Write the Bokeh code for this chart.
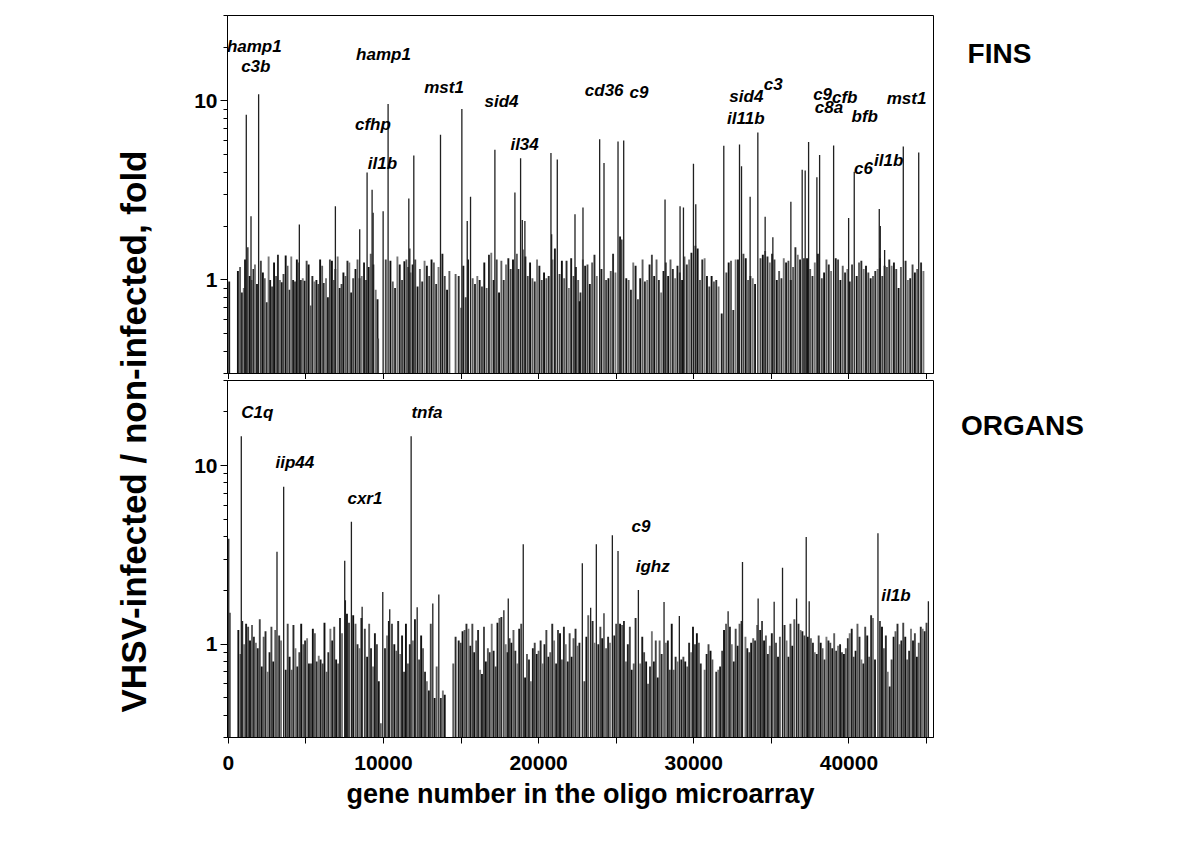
import math
from bokeh.plotting import figure
from bokeh.models import Range1d, FixedTicker, PrintfTickFormatter, Label, ColumnDataSource
from bokeh.layouts import row, column
from bokeh.embed import file_html
from bokeh.resources import INLINE
from bokeh.core.properties import value

FONT = "Liberation Sans"
Y_LO, Y_HI = 0.3, 30
X_LO, X_HI = -50, 45450

# ---------------- FINS (top panel) ----------------
fins_base_gene = [
    620, 760, 880, 1000, 1080, 1250, 1380, 1500, 1620, 1720, 1850, 2100, 2230, 2350, 2480, 2600, 2700, 2820, 2950, 3080,
    3200, 3330, 3450, 3560, 3700, 3820, 3950, 4060, 4180, 4300, 4420, 4560, 4680, 4800, 4920, 5050, 5180, 5300, 5420, 5550,
    5680, 5800, 5920, 6050, 6150, 6300, 6420, 6550, 6680, 6800, 6900, 7050, 7180, 7300, 7420, 7550, 7680, 7800, 7920, 8050,
    8200, 8330, 8460, 8600, 8750, 8880, 9050, 9180, 9350, 9500, 9620, 10150, 10450, 10600, 10750, 10900, 11050, 11200, 11350, 11480,
    11600, 11750, 11880, 12050, 12200, 12350, 12500, 12650, 12800, 12950, 13100, 13250, 13400, 13550, 13800, 13950, 14100, 14250, 14850, 15000,
    15150, 15300, 15450, 15750, 15900, 16050, 16200, 16350, 16500, 16650, 16800, 16950, 17100, 17300, 17450, 17600, 17750, 17900, 18050, 18200,
    18350, 18600, 18700, 19000, 19150, 19300, 19450, 19600, 19750, 19900, 20050, 20200, 20350, 20500, 20650, 20900, 21050, 21350, 21500, 21650,
    21800, 21950, 22100, 22250, 22400, 22550, 22700, 22850, 23000, 23150, 23300, 23450, 23600, 23750, 24050, 24350, 24500, 24650, 24800, 24950,
    25250, 25350, 25650, 25800, 25950, 26100, 26250, 26400, 26550, 26700, 26850, 27000, 27150, 27300, 27450, 27600, 27750, 27900, 28050, 28200,
    28350, 28500, 28650, 28800, 28950, 29100, 29250, 29400, 29550, 29700, 29850, 30100, 30250, 30400, 30550, 30700, 30850, 31000, 31150, 31300,
    31450, 31600, 31800, 32100, 32250, 32400, 32550, 32700, 32850, 33200, 33350, 33500, 33650, 33800, 33950, 34300, 34450, 34600, 34750, 34900,
    35050, 35200, 35350, 35500, 35650, 35800, 35950, 36100, 36250, 36400, 36550, 36700, 36850, 37100, 37300, 37500, 37650, 37800, 38000, 38250,
    38400, 38550, 38700, 38850, 39150, 39300, 39450, 39600, 39750, 39900, 40050, 40200, 40500, 40650, 40800, 40950, 41100, 41250, 41400, 41550,
    41700, 41850, 42000, 42150, 42300, 42450, 42600, 42750, 42900, 43050, 43200, 43350, 43650, 43800, 43950, 44100, 44250, 44400, 44650, 44800,
    60, 9658, 22645, 14650,
]
fins_base_fold = [
    1.12, 1.18, 0.85, 0.9, 1.3, 1.52, 1.05, 1.0, 1.15, 1.22, 0.95, 1.28, 1.1, 1.02, 0.75, 1.35, 1.0, 0.92, 1.25, 1.05,
    1.38, 1.0, 0.97, 1.08, 1.37, 1.2, 0.88, 1.35, 1.0, 0.98, 1.3, 1.25, 1.0, 1.02, 0.99, 1.28, 1.22, 0.72, 1.05, 0.98,
    1.0, 0.95, 1.3, 1.2, 0.96, 1.02, 0.8, 1.3, 1.28, 1.0, 1.15, 1.35, 0.9, 0.95, 1.1, 1.05, 1.28, 1.25, 0.85, 1.02,
    1.15, 1.3, 1.02, 1.05, 1.25, 1.0, 1.18, 1.4, 1.22, 0.88, 0.78, 1.3, 1.28, 0.98, 0.9, 1.35, 1.22, 1.0, 1.27, 1.3,
    1.18, 1.1, 1.22, 1.3, 0.92, 1.15, 0.98, 1.28, 1.2, 1.05, 1.3, 1.25, 0.95, 1.18, 1.4, 1.05, 0.88, 1.12, 1.05, 0.7,
    1.2, 0.8, 1.3, 1.02, 0.95, 1.05, 1.0, 0.92, 1.25, 0.9, 1.38, 1.42, 1.0, 1.3, 0.85, 1.28, 1.0, 1.22, 1.32, 1.15,
    1.3, 1.4, 1.15, 1.48, 1.35, 1.05, 1.25, 1.02, 0.98, 1.3, 1.2, 1.0, 1.1, 1.02, 1.05, 1.3, 1.5, 1.08, 1.28, 1.02,
    1.28, 0.9, 1.32, 1.05, 1.18, 1.0, 0.85, 1.3, 1.2, 1.22, 0.95, 1.25, 1.38, 1.05, 1.15, 1.0, 1.02, 1.12, 1.4, 1.1,
    1.75, 1.68, 1.02, 1.0, 0.88, 1.25, 1.2, 0.78, 1.02, 1.3, 0.98, 1.0, 1.22, 1.38, 1.05, 1.3, 1.0, 0.85, 1.12, 1.25,
    1.05, 1.3, 1.15, 1.02, 1.2, 1.1, 1.0, 1.35, 1.22, 1.3, 1.42, 1.55, 1.5, 1.0, 1.3, 1.32, 1.05, 0.92, 1.05, 0.98,
    1.0, 0.92, 0.65, 1.1, 1.25, 1.28, 0.68, 1.3, 1.3, 1.4, 1.32, 1.0, 1.05, 1.02, 0.95, 1.32, 1.38, 1.45, 1.35, 1.25,
    1.4, 1.3, 1.0, 1.12, 1.02, 1.32, 1.25, 1.28, 1.0, 1.18, 1.52, 1.38, 1.3, 1.32, 1.32, 1.15, 1.05, 1.25, 1.4, 1.02,
    1.1, 1.3, 1.22, 1.12, 1.32, 1.3, 1.0, 1.2, 1.1, 1.15, 0.98, 1.22, 1.05, 1.25, 1.28, 1.15, 1.2, 1.1, 1.02, 1.05,
    1.12, 1.15, 1.32, 1.05, 1.2, 1.18, 1.3, 1.2, 1.25, 1.15, 0.9, 1.18, 1.28, 1.0, 1.02, 1.22, 1.1, 1.15, 1.25, 1.12,
    0.98, 0.47, 0.76, 1.08,
]
fins_peak_gene = [
    1161, 1956, 8946, 9269, 10300, 11635, 11957, 13677, 15054, 15613, 17183, 18473, 18839, 20796, 21204, 23935, 24215,
    25118, 25484, 29980, 31935, 32948, 33077, 34129, 36987, 37180, 37400, 37935, 38110, 39013, 40342, 43503, 44497,
    1465, 4580, 6903, 8471, 9335, 9980, 11700, 15400, 18948, 19116, 20839, 22345, 22860, 28148, 29116, 29335, 30129,
    33632, 34600, 35097, 36258, 39980, 41955, 42020, 42300,
]
fins_peak_fold = [
    8.36, 10.9, 3.98, 3.19, 9.6, 2.85, 4.95, 6.46, 9.0, 2.91, 5.33, 3.08, 4.78, 5.11, 4.71, 6.11, 4.5,
    5.93, 6.0, 4.46, 5.61, 5.71, 4.31, 6.66, 4.13, 4.08, 5.89, 3.74, 4.98, 5.63, 4.02, 5.56, 5.15,
    2.27, 2.04, 2.58, 1.92, 2.37, 2.42, 1.5, 2.13, 2.16, 2.13, 1.8, 2.33, 2.54, 2.81, 2.58, 2.54, 2.65,
    2.91, 2.25, 1.73, 2.73, 2.22, 2.49, 2.0, 1.47,
]
fins_label_text = ["hamp1", "c3b", "hamp1", "mst1", "sid4", "cfhp", "il1b", "il34", "cd36", "c9",
                   "sid4", "c3", "il11b", "c9", "cfb", "c8a", "bfb", "mst1", "c6", "il1b"]
fins_label_gene = [1677, 1774, 10000, 13903, 17613, 9323, 9935, 19097, 24226, 26471,
                   33387, 35116, 33355, 38303, 39729, 38710, 41019, 43710, 40935, 42561]
fins_label_fold = [20.2, 15.6, 18.1, 11.85, 9.97, 7.37, 4.47, 5.72, 11.44, 11.19,
                   10.59, 12.36, 7.96, 10.87, 10.5, 9.23, 8.13, 10.29, 4.19, 4.66]

# ---------------- ORGANS (bottom panel) ----------------
org_base_gene = [
    650, 780, 900, 1020, 1150, 1280, 1400, 1530, 1650, 1780, 1900, 2030, 2160, 2280, 2400, 2530, 2660, 2780, 2900, 3030,
    3280, 3400, 3700, 3830, 3950, 4080, 4200, 4330, 4450, 4580, 4700, 4830, 4950, 5080, 5200, 5330, 5450, 5580, 5700, 5830,
    5950, 6080, 6200, 6330, 6450, 6580, 6700, 6830, 6950, 7080, 7200, 7330, 7650, 7780, 8050, 8200, 8330, 8450, 8580, 8800,
    8950, 9080, 9200, 9330, 9450, 9580, 9700, 9830, 10100, 10230, 10350, 10550, 10700, 10830, 10950, 11080, 11200, 11330, 11450, 11580,
    11700, 11900, 12030, 12300, 12430, 12550, 12680, 12800, 12930, 13050, 13300, 13430, 13700, 13830, 14850, 14980, 15100, 15230, 15350, 15480,
    15600, 15730, 15850, 15980, 16100, 16230, 16350, 16480, 16600, 16730, 16850, 16980, 17100, 17230, 17350, 17480, 17600, 17880, 18000, 18130,
    18250, 18380, 18500, 18630, 18750, 18880, 19130, 19250, 19380, 19500, 19630, 19750, 19880, 20000, 20130, 20250, 20380, 20500, 20630, 20750,
    20880, 21000, 21130, 21250, 21380, 21500, 21630, 21750, 21880, 22000, 22130, 22250, 22380, 22500, 22630, 22950, 23080, 23200, 23480, 23600,
    23850, 23980, 24100, 24350, 24480, 24600, 24880, 25000, 25250, 25380, 25500, 25630, 25750, 25880, 26000, 26130, 26250, 26550, 26680, 26800,
    26930, 27050, 27180, 27300, 27430, 27550, 27680, 27800, 27930, 28200, 28330, 28450, 28580, 28700, 28830, 28950, 29200, 29330, 29450, 29580,
    29700, 29830, 29950, 30080, 30200, 30330, 30450, 30700, 30830, 30950, 31080, 31200, 31450, 31580, 31700, 31830, 31950, 32080, 32330, 32450,
    32580, 32700, 32830, 32950, 33080, 33330, 33450, 33580, 33700, 33830, 33950, 34080, 34280, 34400, 34530, 34650, 34780, 34900, 35030, 35300,
    35430, 35550, 35850, 35980, 36100, 36230, 36350, 36480, 36750, 36880, 37000, 37130, 37350, 37550, 37680, 37800, 37930, 38050, 38180, 38300,
    38430, 38550, 38680, 38800, 38930, 39050, 39180, 39300, 39430, 39550, 39680, 39800, 39930, 40050, 40180, 40300, 40430, 40550, 40680, 40800,
    40930, 41050, 41180, 41300, 41430, 41550, 41680, 42000, 42130, 42250, 42380, 42500, 42630, 42750, 42880, 43000, 43130, 43250, 43380, 43500,
    43630, 43750, 43880, 44000, 44130, 44250, 44380, 44500, 44630, 44750, 44880, 45000,
    13950, 14500, 14650,
]
org_base_fold = [
    1.2, 0.88, 1.35, 1.0, 1.3, 1.25, 1.05, 1.28, 1.1, 1.02, 0.95, 1.38, 0.75, 1.1, 1.18, 0.7, 0.9, 1.25, 0.8, 1.2,
    1.12, 1.05, 0.72, 1.3, 0.85, 0.72, 1.28, 0.95, 0.75, 0.9, 1.3, 1.0, 1.05, 1.08, 0.78, 0.78, 1.22, 1.15, 0.8, 0.86,
    0.82, 0.78, 1.32, 0.7, 0.9, 1.22, 1.05, 1.25, 0.82, 0.78, 1.4, 1.15, 1.48, 1.32, 1.45, 1.3, 1.0, 0.95, 1.4, 1.22,
    0.85, 1.3, 0.95, 0.75, 1.15, 1.0, 0.62, 0.36, 0.95, 1.12, 1.35, 1.3, 1.0, 0.92, 1.35, 0.88, 1.12, 0.7, 1.3, 0.78,
    1.0, 1.05, 1.38, 0.82, 1.12, 0.95, 0.7, 0.62, 0.55, 1.3, 0.5, 0.75, 0.5, 0.55, 1.05, 1.02, 1.18, 1.2, 1.3, 1.22,
    0.98, 1.3, 0.9, 1.05, 1.2, 0.72, 0.68, 1.25, 0.8, 0.95, 0.9, 1.3, 0.92, 0.75, 1.32, 1.4, 1.42, 1.0, 0.9, 1.08,
    1.02, 1.2, 0.92, 0.78, 1.22, 1.3, 0.65, 0.88, 0.82, 0.62, 0.95, 1.02, 0.88, 0.92, 1.05, 0.78, 1.0, 1.2, 0.85, 0.9,
    1.3, 1.05, 0.78, 1.2, 1.15, 0.82, 1.25, 1.0, 0.8, 1.15, 0.85, 1.08, 1.22, 0.98, 1.02, 0.62, 1.1, 1.45, 1.35, 1.02,
    1.0, 1.25, 1.08, 0.95, 1.1, 1.02, 1.12, 1.3, 1.3, 1.28, 1.35, 0.8, 1.0, 1.25, 0.72, 0.78, 1.4, 0.78, 1.1, 0.9,
    0.8, 0.6, 0.75, 1.18, 0.8, 1.05, 0.65, 1.05, 0.88, 1.02, 1.05, 0.72, 1.3, 0.72, 0.85, 0.8, 0.82, 0.85, 0.8, 0.75,
    1.02, 0.9, 1.25, 1.0, 1.15, 1.02, 0.78, 0.72, 0.88, 1.0, 0.92, 0.82, 0.7, 0.72, 0.75, 0.92, 1.2, 1.3, 1.25, 1.0,
    0.8, 1.22, 0.98, 1.3, 1.35, 1.1, 0.95, 0.9, 1.02, 1.08, 1.05, 1.28, 1.2, 1.35, 1.05, 1.12, 0.88, 0.98, 1.15, 1.02,
    0.85, 1.1, 1.28, 1.05, 0.85, 1.3, 0.98, 1.38, 1.3, 1.2, 1.18, 1.12, 1.1, 1.08, 1.02, 0.9, 0.88, 1.12, 1.02, 0.95,
    0.82, 1.1, 1.05, 1.02, 0.95, 1.15, 0.92, 0.98, 1.0, 0.9, 0.88, 0.95, 1.08, 1.15, 1.22, 0.85, 0.92, 1.3, 1.1, 0.82,
    0.78, 1.25, 1.12, 0.85, 1.45, 1.4, 0.82, 1.35, 1.25, 0.95, 1.12, 0.7, 0.58, 0.82, 1.1, 1.18, 1.3, 1.0, 1.05, 1.32,
    1.1, 0.82, 0.92, 1.22, 1.05, 1.15, 0.85, 1.02, 1.25, 1.22, 1.18, 1.32,
    0.52, 0.78, 1.1,
]
org_peak_gene = [
    30, 839, 3140, 3570, 7505, 7935, 11785, 19010, 22817, 23720, 24753, 25118, 33140, 35720, 37247, 41870,
    110, 7548, 8626, 18045, 13568, 13181, 12174, 10406, 17761, 23355, 9957, 24213, 26430, 28084, 29070,
    32213, 34148, 35181, 36626, 37439, 45120,
]
org_peak_fold = [
    3.9, 14.6, 3.29, 7.62, 2.93, 4.85, 14.6, 3.63, 2.84, 3.63, 4.08, 3.33, 2.89, 2.68, 3.99, 4.18,
    1.5, 1.76, 1.62, 1.8, 1.9, 1.69, 1.61, 1.57, 1.55, 1.6, 1.96, 1.49, 2.01, 1.72, 1.44,
    1.53, 1.8, 1.73, 1.8, 1.74, 1.74,
]
org_label_text = ["C1q", "tnfa", "iip44", "cxr1", "c9", "ighz", "il1b"]
org_label_gene = [1871, 12806, 4290, 8806, 26600, 27355, 43032]
org_label_fold = [19.77, 19.77, 10.36, 6.55, 4.54, 2.74, 1.88]

panel_names = ["FINS", "ORGANS"]

x_major = [0, 10000, 20000, 30000, 40000]
x_minor = [5000, 15000, 25000, 35000, 45000]
y_major = [1, 10]
y_minor = [0.3, 0.4, 0.5, 0.6, 0.7, 0.8, 0.9, 2, 3, 4, 5, 6, 7, 8, 9, 20, 30]

BASE_COLORS = ["#101010", "#5c5c5c", "#2a2a2a", "#767676", "#1a1a1a", "#444444"]
LAB_W = 160          # left strip holding the y-axis title
AXIS_LEFT = 67       # frame left at 227
FRAME_W = 706        # frame right at 933
BORDER_R = 8
NAME_W = 220         # right strip holding the panel names
TOTAL_H = 815


def panel(base_g, base_f, peak_g, peak_f, lab_t, lab_g, lab_f,
          frame_h, top_border, bottom_border, show_x_labels):
    p = figure(frame_width=FRAME_W, frame_height=frame_h,
               x_range=Range1d(X_LO, X_HI), y_range=Range1d(Y_LO, Y_HI),
               y_axis_type="log", output_backend="svg", toolbar_location=None,
               min_border_left=AXIS_LEFT, min_border_right=BORDER_R,
               min_border_top=top_border, min_border_bottom=bottom_border,
               background_fill_color="white", border_fill_color="white")
    p.grid.visible = False
    p.outline_line_color = "black"
    p.outline_line_width = 1
    p.outline_line_alpha = 1

    colors = [BASE_COLORS[i % len(BASE_COLORS)] for i in range(len(base_g))]
    src = ColumnDataSource(dict(g=base_g, f=base_f, lo=[Y_LO] * len(base_g), c=colors))
    p.segment(x0="g", y0="lo", x1="g", y1="f", source=src, line_color="c", line_width=1.9)
    src2 = ColumnDataSource(dict(g=peak_g, f=peak_f, lo=[Y_LO] * len(peak_g)))
    p.segment(x0="g", y0="lo", x1="g", y1="f", source=src2, line_color="#202020", line_width=1.3)

    lsrc = ColumnDataSource(dict(t=lab_t, g=lab_g, f=lab_f))
    p.text(x="g", y="f", text="t", source=lsrc, text_font=value(FONT),
           text_font_style="bold italic", text_font_size="17px",
           text_align="center", text_baseline="middle", text_color="black")

    ya = p.yaxis[0]
    ya.ticker = FixedTicker(ticks=y_major, minor_ticks=y_minor)
    ya.formatter = PrintfTickFormatter(format="%d")
    ya.axis_line_color = "black"
    ya.major_tick_line_color = "black"
    ya.minor_tick_line_color = "black"
    ya.major_tick_in = 0
    ya.major_tick_out = 7
    ya.minor_tick_in = 0
    ya.minor_tick_out = 4
    ya.major_label_standoff = 3
    ya.major_label_text_font = FONT
    ya.major_label_text_font_style = "bold"
    ya.major_label_text_font_size = "21px"
    ya.major_label_text_color = "black"

    xa = p.xaxis[0]
    xa.axis_line_color = "black"
    xa.major_tick_line_color = "black"
    xa.minor_tick_line_color = "black"
    xa.major_tick_in = 0
    xa.major_tick_out = 6
    xa.minor_tick_in = 0
    xa.minor_tick_out = 6
    if show_x_labels:
        xa.ticker = FixedTicker(ticks=x_major, minor_ticks=x_minor)
        xa.formatter = PrintfTickFormatter(format="%d")
        xa.major_label_standoff = 12
        xa.major_label_text_font = FONT
        xa.major_label_text_font_style = "bold"
        xa.major_label_text_font_size = "21px"
        xa.major_label_text_color = "black"
        xa.axis_label = "gene number in the oligo microarray"
        xa.axis_label_text_font = FONT
        xa.axis_label_text_font_style = "bold"
        xa.axis_label_text_font_size = "27px"
        xa.axis_label_text_color = "black"
        xa.axis_label_standoff = 6
    else:
        # only tick marks on the shared edge, no labels
        xa.ticker = FixedTicker(ticks=[], minor_ticks=x_major + x_minor)
        xa.major_label_standoff = 0
    return p


top = panel(fins_base_gene, fins_base_fold, fins_peak_gene, fins_peak_fold,
            fins_label_text, fins_label_gene, fins_label_fold,
            358, 15, 6, False)
bottom = panel(org_base_gene, org_base_fold, org_peak_gene, org_peak_fold,
               org_label_text, org_label_gene, org_label_fold,
               357, 1, 0, True)


def strip(width):
    s = figure(width=width, height=TOTAL_H, x_range=Range1d(0, width), y_range=Range1d(0, TOTAL_H),
               output_backend="svg", toolbar_location=None,
               x_axis_location=None, y_axis_location=None,
               min_border_left=0, min_border_right=0, min_border_top=0, min_border_bottom=0)
    s.grid.visible = False
    s.outline_line_color = None
    return s


lab = strip(LAB_W)
lab.add_layout(Label(x=133, y=TOTAL_H - 431, text="VHSV-infected / non-infected, fold",
                     angle=math.pi / 2, text_font=FONT, text_font_style="bold",
                     text_font_size="35px", text_align="center", text_baseline="middle",
                     text_color="black"))

names = strip(NAME_W)
name_left = LAB_W + AXIS_LEFT + FRAME_W + BORDER_R
names.add_layout(Label(x=999 - name_left, y=TOTAL_H - 53, text=panel_names[0],
                       text_font=FONT, text_font_style="bold", text_font_size="28px",
                       text_align="center", text_baseline="middle", text_color="black"))
names.add_layout(Label(x=1022 - name_left, y=TOTAL_H - 425, text=panel_names[1],
                       text_font=FONT, text_font_style="bold", text_font_size="28px",
                       text_align="center", text_baseline="middle", text_color="black"))

layout = row(lab, column(top, bottom), names)
open("out.html", "w").write(file_html(layout, INLINE))
